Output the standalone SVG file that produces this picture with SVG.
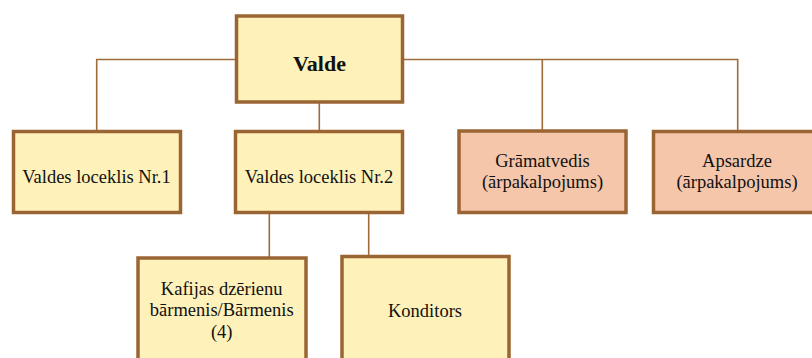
<svg xmlns="http://www.w3.org/2000/svg" width="812" height="358" viewBox="0 0 812 358">
<style>
.box{stroke:#9a6533;stroke-width:3.5}
.y{fill:#fef1ba}
.s{fill:#f5c6aa}
.c{fill:none;stroke:#a06b3c;stroke-width:1.6}
</style>
<rect width="812" height="358" fill="#fff"/>
<g id="connectors">
<path class="c" d="M236 59.5H96.7V131"/>
<path class="c" d="M403 59.5H737.7V131"/>
<path class="c" d="M542.3 59.5V130"/>
<path class="c" d="M319.3 103V131"/>
<path class="c" d="M269.3 213V257"/>
<path class="c" d="M368.7 213V255"/>
</g>
<g font-family="Liberation Serif" font-size="18.5" fill="#111" text-anchor="middle">
<g id="valde">
<rect class="box y" x="236.5" y="16" width="166" height="86"/>
<text x="319.5" y="71" font-weight="bold" font-size="22">Valde</text>
</g>
<g id="loceklis1">
<rect class="box y" x="13.5" y="131.5" width="167" height="81"/>
<text x="96.5" y="183">Valdes loceklis Nr.1</text>
</g>
<g id="loceklis2">
<rect class="box y" x="235.5" y="131.5" width="167" height="81"/>
<text x="319" y="183">Valdes loceklis Nr.2</text>
</g>
<g id="gramatvedis">
<rect class="box s" x="459" y="131" width="167" height="81.5"/>
<text x="542.5" y="166.5">Grāmatvedis</text>
<text x="542.5" y="188">(ārpakalpojums)</text>
</g>
<g id="apsardze">
<rect class="box s" x="653.5" y="131.5" width="167" height="81"/>
<text x="737" y="166.5">Apsardze</text>
<text x="737" y="188">(ārpakalpojums)</text>
</g>
<g id="barmenis">
<rect class="box y" x="138" y="258" width="168" height="110"/>
<text x="221.7" y="294.5">Kafijas dzērienu</text>
<text x="221.7" y="316">bārmenis/Bārmenis</text>
<text x="221.7" y="337.5">(4)</text>
</g>
<g id="konditors">
<rect class="box y" x="342" y="256.5" width="167" height="110"/>
<text x="425" y="316.5">Konditors</text>
</g>
</g>
</svg>
